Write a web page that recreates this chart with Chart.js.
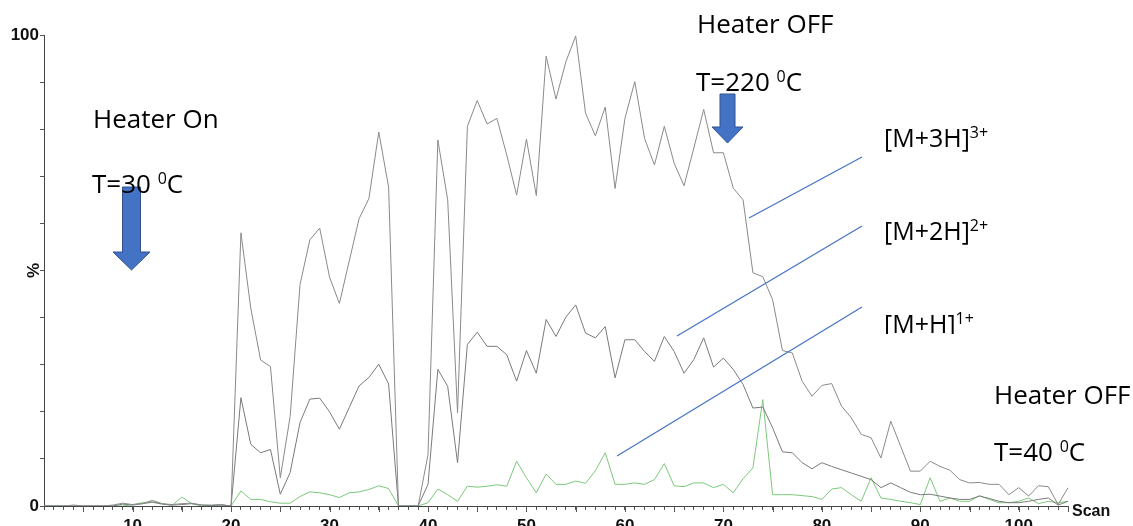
<!DOCTYPE html>
<html lang="en">
<head>
    <meta charset="UTF-8">
    <title>Scan chromatogram</title>
    <script src="https://cdn.jsdelivr.net/npm/chart.js"></script>
    <style>
        body { margin: 0; background: #fff; }
        canvas { display: block; }
    </style>
</head>
<body>
    <canvas id="scanChart" width="1133" height="526"></canvas>
    <script>
        // scan numbers 1..105
        const scans = [
            1, 2, 3, 4, 5, 6, 7, 8, 9, 10, 11, 12, 13, 14, 15, 16, 17, 18, 19, 20,
            21, 22, 23, 24, 25, 26, 27, 28, 29, 30, 31, 32, 33, 34, 35, 36, 37, 38, 39, 40,
            41, 42, 43, 44, 45, 46, 47, 48, 49, 50, 51, 52, 53, 54, 55, 56, 57, 58, 59, 60,
            61, 62, 63, 64, 65, 66, 67, 68, 69, 70, 71, 72, 73, 74, 75, 76, 77, 78, 79, 80,
            81, 82, 83, 84, 85, 86, 87, 88, 89, 90, 91, 92, 93, 94, 95, 96, 97, 98, 99, 100,
            101, 102, 103, 104, 105
        ];

        // [M+3H]3+ (upper grey trace)
        const m3h = [
            0, 0, 0, 0.2, 0, 0, 0, 0.2, 0.6, 0.3, 0.5, 1.2, 0.5, 0.3, 0.5, 0.6, 0.2, 0.2, 0.3, 0,
            58, 42, 31, 29.6, 6, 19, 47, 56.5, 59, 48.6, 43, 52, 61, 65.3, 79.4, 67.7, 0, 0, 0, 10.9,
            77.7, 65, 19.8, 80.6, 86.1, 81.1, 82.3, 74.5, 66, 77.9, 65.9, 95.5, 86.4, 94.3, 99.8, 83.4, 78.6, 84.7, 67.4, 82.3,
            90.1, 78, 72.4, 80.6, 72.8, 68, 76, 84.2, 75, 75, 67.5, 65, 49.5, 48.7, 43.8, 33, 32.5, 26.5, 23.3, 25.6,
            26, 21.2, 18.7, 15.2, 14.5, 10.2, 18, 12.7, 7.4, 7.4, 9.5, 8.4, 7.6, 5.6, 4.9, 5, 4.6, 4.6, 2.4, 3.9,
            2.1, 4.3, 4.1, 0.3, 3.9
        ];

        // [M+2H]2+ (lower grey trace)
        const m2h = [
            0, 0, 0, 0, 0, 0, 0, 0, 0.4, 0.2, 0.5, 0.8, 0.4, 0.2, 0.3, 0.5, 0.2, 0.1, 0.2, 0,
            23, 13.1, 11.3, 12, 2.5, 7.1, 17.7, 22.7, 22.9, 20, 16.3, 20.9, 25.5, 27.3, 30.1, 25.9, 0, 0, 0, 4.6,
            29, 25.4, 9.2, 34.3, 36.9, 33.9, 33.9, 32.1, 26.5, 33, 28.2, 39.6, 36, 40.1, 42.7, 36.7, 35.7, 38.1, 27.2, 35.3,
            35.3, 32.8, 30.7, 36, 32.8, 28.2, 31.1, 35.7, 29.5, 31.4, 29, 25.8, 20.8, 21, 16.6, 11.5, 11.3, 9.2, 7.9, 9.2,
            8.4, 7.7, 7, 6.3, 5.6, 3.9, 4.9, 3.9, 2.9, 2.4, 2.5, 2.1, 1.7, 1.4, 1.4, 2.1, 1.6, 1, 0.7, 0.7,
            1, 1.4, 1.7, 0.2, 1
        ];

        // [M+H]1+ (green trace)
        const mh = [
            0, 0, 0, 0, 0, 0, 0, 0, 0, 0.3, 0.7, 0.9, 0.5, 0.1, 1.9, 0.5, 0, 0.1, 0.2, 0,
            3.2, 1.4, 1.4, 0.9, 0.6, 0.6, 2, 3, 2.8, 2.4, 1.8, 2.8, 3, 3.5, 4.3, 3.7, 0, 0, 0, 0.7,
            3.6, 2.4, 1, 4.2, 4, 4.2, 4.5, 4.2, 9.5, 6, 2.8, 6.8, 4.6, 4.6, 5.3, 4.8, 7.5, 11.3, 4.6, 4.6,
            4.9, 4.6, 5.6, 9, 4.3, 4.1, 4.9, 4.9, 3.9, 4.6, 2.8, 5.8, 8.1, 22.6, 2.4, 2.4, 2.4, 2.2, 2, 1.4,
            3.6, 3.9, 2.4, 1, 6, 1.7, 1.4, 1, 0.7, 0.3, 6, 1, 1.7, 1, 1, 2.2, 1.4, 0.7, 0.7, 1,
            1.7, 0.5, 1, 0.7, 1
        ];

        const xLabeled = [10, 20, 30, 40, 50, 60, 70, 80, 90, 100];
        const yLabeled = [0, 100];

        const axisFamily = "'Liberation Sans', Arial, sans-serif";
        const noteFont = "'Open Sans', 'Noto Sans', sans-serif";
        const arrowBlue = '#4472C4';

        function toPoints(values) {
            return values.map((v, i) => ({ x: scans[i], y: v }));
        }

        // text with a raised small part, e.g. T=30 ^0 C
        function supText(ctx, parts, x, y, size) {
            let cx = x;
            parts.forEach(p => {
                const s = p.sup ? Math.round(size * 0.62) : size;
                ctx.font = s + 'px ' + noteFont;
                ctx.fillText(p.t, cx, p.sup ? y - size * 0.36 : y);
                cx += ctx.measureText(p.t).width;
            });
        }

        function downArrow(ctx, cx, top, shaftW, headY, headW, tip) {
            ctx.beginPath();
            ctx.moveTo(cx - shaftW / 2, top);
            ctx.lineTo(cx + shaftW / 2, top);
            ctx.lineTo(cx + shaftW / 2, headY);
            ctx.lineTo(cx + headW / 2, headY);
            ctx.lineTo(cx, tip);
            ctx.lineTo(cx - headW / 2, headY);
            ctx.lineTo(cx - shaftW / 2, headY);
            ctx.closePath();
            ctx.fillStyle = arrowBlue;
            ctx.fill();
            ctx.strokeStyle = '#2F528F';
            ctx.lineWidth = 1;
            ctx.stroke();
        }

        const notes = {
            id: 'notes',
            afterDraw(chart) {
                const ctx = chart.ctx;
                const x = chart.scales.x;
                const y = chart.scales.y;
                ctx.save();

                // longer ticks every 5 scans
                ctx.strokeStyle = '#555';
                ctx.lineWidth = 1;
                scans.filter(s => s % 5 === 0).forEach(s => {
                    const px = Math.round(x.getPixelForValue(s)) + 0.5;
                    ctx.beginPath();
                    ctx.moveTo(px, y.bottom);
                    ctx.lineTo(px, y.bottom + 6);
                    ctx.stroke();
                });

                // axis words
                ctx.fillStyle = '#111';
                ctx.font = 'bold 16px ' + axisFamily;
                ctx.textBaseline = 'alphabetic';
                ctx.fillText('Scan', x.right + 4, y.bottom + 10);
                ctx.save();
                ctx.translate(39, y.getPixelForValue(50));
                ctx.rotate(-Math.PI / 2);
                ctx.textAlign = 'center';
                ctx.font = 'bold 17px ' + axisFamily;
                ctx.fillText('%', 0, 0);
                ctx.restore();

                // pointer lines to the traces
                ctx.strokeStyle = arrowBlue;
                ctx.lineWidth = 1.2;
                [[749, 218, 862, 157], [677, 336, 862, 226], [617, 456, 862, 307]].forEach(l => {
                    ctx.beginPath();
                    ctx.moveTo(l[0], l[1]);
                    ctx.lineTo(l[2], l[3]);
                    ctx.stroke();
                });

                downArrow(ctx, 131.5, 187, 18, 252, 37, 270);
                downArrow(ctx, 727.5, 94, 15, 127, 31, 143);

                ctx.fillStyle = '#000';
                ctx.textAlign = 'left';
                ctx.font = '26px ' + noteFont;
                ctx.fillText('Heater On', 93, 128);
                supText(ctx, [{ t: 'T=30 ' }, { t: '0', sup: true }, { t: 'C' }], 92, 193, 26);
                ctx.font = '26px ' + noteFont;
                ctx.fillText('Heater OFF', 697, 33);
                supText(ctx, [{ t: 'T=220 ' }, { t: '0', sup: true }, { t: 'C' }], 696, 91, 26);
                ctx.font = '26px ' + noteFont;
                ctx.fillText('Heater OFF', 994, 404);
                supText(ctx, [{ t: 'T=40 ' }, { t: '0', sup: true }, { t: 'C' }], 994, 461, 26);

                supText(ctx, [{ t: '[M+3H]' }, { t: '3+', sup: true }], 884, 147, 25);
                supText(ctx, [{ t: '[M+2H]' }, { t: '2+', sup: true }], 884, 240, 25);
                ctx.save();
                ctx.beginPath();
                ctx.rect(870, 290, 200, 44);
                ctx.clip();
                supText(ctx, [{ t: '[M+H]' }, { t: '1+', sup: true }], 884, 333, 25);
                ctx.restore();

                ctx.restore();
            }
        };

        new Chart(document.getElementById('scanChart'), {
            type: 'line',
            data: {
                datasets: [
                    { label: '[M+3H]3+', data: toPoints(m3h), borderColor: '#8a8a8a', borderWidth: 1, pointRadius: 0, tension: 0 },
                    { label: '[M+2H]2+', data: toPoints(m2h), borderColor: '#7a7a7a', borderWidth: 1, pointRadius: 0, tension: 0 },
                    { label: '[M+H]1+', data: toPoints(mh), borderColor: '#7cc87c', borderWidth: 1, pointRadius: 0, tension: 0 }
                ]
            },
            options: {
                responsive: false,
                animation: false,
                devicePixelRatio: 1,
                layout: { padding: { left: 0, right: 65, top: 35, bottom: 0 } },
                plugins: { legend: { display: false }, tooltip: { enabled: false } },
                scales: {
                    x: {
                        type: 'linear',
                        min: 1,
                        max: 105,
                        afterFit: scale => { scale.height = 20; },
                        border: { color: '#444', width: 1 },
                        grid: { drawOnChartArea: false, tickLength: 4, tickColor: '#555' },
                        ticks: {
                            stepSize: 1,
                            autoSkip: false,
                            maxRotation: 0,
                            padding: 6,
                            color: '#111',
                            font: { family: axisFamily, size: 17, weight: 'bold' },
                            callback: v => xLabeled.includes(v) ? String(v) : ''
                        }
                    },
                    y: {
                        min: 0,
                        max: 100,
                        afterFit: scale => { scale.width = 44; },
                        border: { color: '#444', width: 1 },
                        grid: { drawOnChartArea: false, tickLength: 4, tickColor: '#555' },
                        ticks: {
                            stepSize: 10,
                            padding: 1,
                            color: '#111',
                            font: { family: axisFamily, size: 17, weight: 'bold' },
                            callback: v => yLabeled.includes(v) ? String(v) : ''
                        }
                    }
                }
            },
            plugins: [notes]
        });
    </script>
</body>
</html>
